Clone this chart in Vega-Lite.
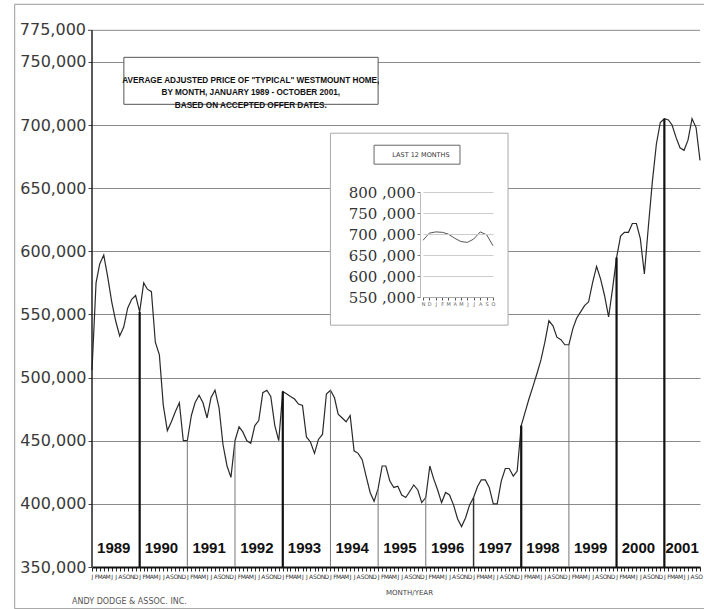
{
  "$schema": "https://vega.github.io/schema/vega-lite/v6.json",
  "width": 608,
  "height": 543,
  "autosize": {"type": "none"},
  "padding": {"left": 92, "top": 24, "right": 4, "bottom": 42},
  "background": "white",
  "config": {"view": {"stroke": null}, "font": "DejaVu Sans"},
  "datasets": {
    "prices": [
      {"date": "1989/01/01", "price": 506000}, {"date": "1989/02/01", "price": 575000}, {"date": "1989/03/01", "price": 590000}, {"date": "1989/04/01", "price": 597000}, {"date": "1989/05/01", "price": 580000}, {"date": "1989/06/01", "price": 560000}, {"date": "1989/07/01", "price": 545000}, {"date": "1989/08/01", "price": 533000}, {"date": "1989/09/01", "price": 540000}, {"date": "1989/10/01", "price": 555000}, {"date": "1989/11/01", "price": 562000}, {"date": "1989/12/01", "price": 565000},
      {"date": "1990/01/01", "price": 552000}, {"date": "1990/02/01", "price": 575000}, {"date": "1990/03/01", "price": 570000}, {"date": "1990/04/01", "price": 568000}, {"date": "1990/05/01", "price": 528000}, {"date": "1990/06/01", "price": 518000}, {"date": "1990/07/01", "price": 478000}, {"date": "1990/08/01", "price": 458000}, {"date": "1990/09/01", "price": 465000}, {"date": "1990/10/01", "price": 473000}, {"date": "1990/11/01", "price": 480000}, {"date": "1990/12/01", "price": 450000},
      {"date": "1991/01/01", "price": 450000}, {"date": "1991/02/01", "price": 470000}, {"date": "1991/03/01", "price": 480000}, {"date": "1991/04/01", "price": 486000}, {"date": "1991/05/01", "price": 480000}, {"date": "1991/06/01", "price": 468000}, {"date": "1991/07/01", "price": 484000}, {"date": "1991/08/01", "price": 490000}, {"date": "1991/09/01", "price": 476000}, {"date": "1991/10/01", "price": 447000}, {"date": "1991/11/01", "price": 430000}, {"date": "1991/12/01", "price": 421000},
      {"date": "1992/01/01", "price": 450000}, {"date": "1992/02/01", "price": 461000}, {"date": "1992/03/01", "price": 457000}, {"date": "1992/04/01", "price": 450000}, {"date": "1992/05/01", "price": 448000}, {"date": "1992/06/01", "price": 462000}, {"date": "1992/07/01", "price": 466000}, {"date": "1992/08/01", "price": 488000}, {"date": "1992/09/01", "price": 490000}, {"date": "1992/10/01", "price": 485000}, {"date": "1992/11/01", "price": 462000}, {"date": "1992/12/01", "price": 450000},
      {"date": "1993/01/01", "price": 489000}, {"date": "1993/02/01", "price": 487000}, {"date": "1993/03/01", "price": 485000}, {"date": "1993/04/01", "price": 483000}, {"date": "1993/05/01", "price": 479000}, {"date": "1993/06/01", "price": 478000}, {"date": "1993/07/01", "price": 453000}, {"date": "1993/08/01", "price": 449000}, {"date": "1993/09/01", "price": 440000}, {"date": "1993/10/01", "price": 451000}, {"date": "1993/11/01", "price": 455000}, {"date": "1993/12/01", "price": 487000},
      {"date": "1994/01/01", "price": 490000}, {"date": "1994/02/01", "price": 484000}, {"date": "1994/03/01", "price": 471000}, {"date": "1994/04/01", "price": 468000}, {"date": "1994/05/01", "price": 465000}, {"date": "1994/06/01", "price": 470000}, {"date": "1994/07/01", "price": 442000}, {"date": "1994/08/01", "price": 440000}, {"date": "1994/09/01", "price": 435000}, {"date": "1994/10/01", "price": 422000}, {"date": "1994/11/01", "price": 409000}, {"date": "1994/12/01", "price": 402000},
      {"date": "1995/01/01", "price": 412000}, {"date": "1995/02/01", "price": 430000}, {"date": "1995/03/01", "price": 430000}, {"date": "1995/04/01", "price": 418000}, {"date": "1995/05/01", "price": 413000}, {"date": "1995/06/01", "price": 414000}, {"date": "1995/07/01", "price": 407000}, {"date": "1995/08/01", "price": 405000}, {"date": "1995/09/01", "price": 410000}, {"date": "1995/10/01", "price": 415000}, {"date": "1995/11/01", "price": 411000}, {"date": "1995/12/01", "price": 401000},
      {"date": "1996/01/01", "price": 405000}, {"date": "1996/02/01", "price": 430000}, {"date": "1996/03/01", "price": 420000}, {"date": "1996/04/01", "price": 411000}, {"date": "1996/05/01", "price": 401000}, {"date": "1996/06/01", "price": 409000}, {"date": "1996/07/01", "price": 407000}, {"date": "1996/08/01", "price": 399000}, {"date": "1996/09/01", "price": 388000}, {"date": "1996/10/01", "price": 382000}, {"date": "1996/11/01", "price": 389000}, {"date": "1996/12/01", "price": 399000},
      {"date": "1997/01/01", "price": 405000}, {"date": "1997/02/01", "price": 414000}, {"date": "1997/03/01", "price": 419000}, {"date": "1997/04/01", "price": 419000}, {"date": "1997/05/01", "price": 413000}, {"date": "1997/06/01", "price": 400000}, {"date": "1997/07/01", "price": 400000}, {"date": "1997/08/01", "price": 418000}, {"date": "1997/09/01", "price": 428000}, {"date": "1997/10/01", "price": 428000}, {"date": "1997/11/01", "price": 422000}, {"date": "1997/12/01", "price": 426000},
      {"date": "1998/01/01", "price": 462000}, {"date": "1998/02/01", "price": 473000}, {"date": "1998/03/01", "price": 483000}, {"date": "1998/04/01", "price": 493000}, {"date": "1998/05/01", "price": 503000}, {"date": "1998/06/01", "price": 514000}, {"date": "1998/07/01", "price": 528000}, {"date": "1998/08/01", "price": 545000}, {"date": "1998/09/01", "price": 541000}, {"date": "1998/10/01", "price": 532000}, {"date": "1998/11/01", "price": 530000}, {"date": "1998/12/01", "price": 526000},
      {"date": "1999/01/01", "price": 526000}, {"date": "1999/02/01", "price": 539000}, {"date": "1999/03/01", "price": 547000}, {"date": "1999/04/01", "price": 552000}, {"date": "1999/05/01", "price": 557000}, {"date": "1999/06/01", "price": 560000}, {"date": "1999/07/01", "price": 575000}, {"date": "1999/08/01", "price": 588000}, {"date": "1999/09/01", "price": 578000}, {"date": "1999/10/01", "price": 565000}, {"date": "1999/11/01", "price": 548000}, {"date": "1999/12/01", "price": 570000},
      {"date": "2000/01/01", "price": 595000}, {"date": "2000/02/01", "price": 612000}, {"date": "2000/03/01", "price": 615000}, {"date": "2000/04/01", "price": 615000}, {"date": "2000/05/01", "price": 622000}, {"date": "2000/06/01", "price": 622000}, {"date": "2000/07/01", "price": 610000}, {"date": "2000/08/01", "price": 582000}, {"date": "2000/09/01", "price": 620000}, {"date": "2000/10/01", "price": 655000}, {"date": "2000/11/01", "price": 685000}, {"date": "2000/12/01", "price": 702000},
      {"date": "2001/01/01", "price": 705000}, {"date": "2001/02/01", "price": 704000}, {"date": "2001/03/01", "price": 700000}, {"date": "2001/04/01", "price": 690000}, {"date": "2001/05/01", "price": 682000}, {"date": "2001/06/01", "price": 680000}, {"date": "2001/07/01", "price": 688000}, {"date": "2001/08/01", "price": 705000}, {"date": "2001/09/01", "price": 698000}, {"date": "2001/10/01", "price": 672000}
    ]
  },
  "layer": [
    {
      "layer": [
        {
          "data": {"values": [{}]},
          "mark": {"type": "rule", "color": "#8a8a8a", "strokeWidth": 1},
          "encoding": {
            "x": {"datum": {"year": 1989, "month": 1, "date": 1}, "type": "temporal"},
            "x2": {"datum": {"year": 2001, "month": 10, "date": 1}},
            "y": {"datum": 775000}
          }
        },
        {
          "data": {"values": [{}]},
          "mark": {"type": "rule", "color": "#444", "strokeWidth": 1},
          "encoding": {
            "x": {"datum": {"year": 1988, "month": 12, "date": 1}, "type": "temporal"},
            "x2": {"datum": {"year": 1989, "month": 1, "date": 1}},
            "y": {"datum": 775000}
          }
        },
        {
          "data": {"values": [{}]},
          "mark": {"type": "text", "font": "DejaVu Sans", "fontSize": 16, "color": "#3a3a3a", "align": "right", "baseline": "middle", "dx": -6},
          "encoding": {
            "x": {"datum": {"year": 1989, "month": 1, "date": 1}, "type": "temporal"},
            "y": {"datum": 775000},
            "text": {"value": "775,000"}
          }
        },
        {
          "data": {"name": "prices"},
          "mark": {"type": "line", "color": "#2a2a2a", "strokeWidth": 1.2},
          "encoding": {
            "x": {
              "field": "date", "type": "temporal",
              "scale": {"domain": [{"year": 1989, "month": 1, "date": 1}, {"year": 2001, "month": 10, "date": 1}], "nice": false},
              "axis": {
                "orient": "bottom",
                "tickCount": {"interval": "month", "step": 1},
                "labelExpr": "substring(timeFormat(datum.value, '%b'), 0, 1)",
                "labelFontSize": 6, "labelColor": "#333", "labelOverlap": false, "labelFlush": false, "labelBound": false,
                "labelPadding": 2, "tickSize": 4, "tickColor": "#222",
                "domainColor": "#111", "domainWidth": 2, "grid": false,
                "title": "MONTH/YEAR", "titleFontSize": 7, "titleFontWeight": "normal", "titleColor": "#444",
                "titlePadding": 9, "titleX": 317
              }
            },
            "y": {
              "field": "price", "type": "quantitative",
              "scale": {"domain": [350000, 780000], "nice": false, "zero": false},
              "axis": {
                "values": [350000, 375000, 400000, 425000, 450000, 475000, 500000, 525000, 550000, 575000, 600000, 625000, 650000, 675000, 700000, 725000, 750000],
                "labelExpr": "format(datum.value, ',.0f')",
                "labelFont": "DejaVu Sans", "labelFontSize": 16, "labelColor": "#3a3a3a",
                "labelPadding": 2, "tickSize": 4, "tickColor": "#444",
                "labelOverlap": false, "labelBound": false, "labelFlush": false,
                "domain": false,
                "grid": true, "gridColor": "#8a8a8a", "gridWidth": 1, "title": null
              }
            }
          }
        },
        {
          "data": {"values": [{}]},
          "mark": {"type": "rule", "color": "#222", "strokeWidth": 1.5},
          "encoding": {
            "x": {"datum": {"year": 1989, "month": 1, "date": 1}, "type": "temporal"},
            "y": {"datum": 350000},
            "y2": {"datum": 775000}
          }
        },
        {
          "data": {"name": "prices"},
          "transform": [{"filter": "month(toDate(datum.date)) == 0 && year(toDate(datum.date)) >= 1990"}],
          "mark": {"type": "rule"},
          "encoding": {
            "x": {"field": "date", "type": "temporal"},
            "y": {"field": "price", "type": "quantitative"},
            "y2": {"datum": 350000},
            "strokeWidth": {
              "condition": [
                {"test": "indexof([1990, 1993, 1998, 2000, 2001], year(toDate(datum.date))) >= 0", "value": 2.2},
                {"test": "year(toDate(datum.date)) == 1997", "value": 1.5}
              ],
              "value": 1
            },
            "color": {
              "condition": [
                {"test": "indexof([1990, 1993, 1998, 2000, 2001], year(toDate(datum.date))) >= 0", "value": "#111111"},
                {"test": "year(toDate(datum.date)) == 1997", "value": "#333333"}
              ],
              "value": "#777777"
            }
          }
        },
        {
          "data": {"name": "prices"},
          "mark": {"type": "text", "font": "Liberation Sans", "fontWeight": "bold", "fontSize": 15, "color": "#111", "baseline": "middle", "align": "center"},
          "encoding": {
            "x": {"field": "date", "aggregate": "mean", "type": "temporal"},
            "y": {"datum": 365000},
            "text": {"field": "date", "timeUnit": "year", "type": "ordinal"}
          }
        },
        {
          "data": {"values": [{}]},
          "mark": {"type": "rect", "fill": "white", "stroke": "#555", "strokeWidth": 1},
          "encoding": {
            "x": {"datum": {"year": 1989, "month": 9, "date": 2}, "type": "temporal"},
            "x2": {"datum": {"year": 1995, "month": 1, "date": 1}},
            "y": {"datum": 753600},
            "y2": {"datum": 716400}
          }
        },
        {
          "data": {"values": [{}]},
          "mark": {"type": "text", "font": "Liberation Sans", "fontWeight": "bold", "fontSize": 8.2, "color": "#111", "lineHeight": 12.5, "align": "center", "baseline": "middle"},
          "encoding": {
            "x": {"datum": {"year": 1992, "month": 5, "date": 1}, "type": "temporal"},
            "y": {"datum": 735000},
            "text": {"value": ["AVERAGE ADJUSTED PRICE OF \"TYPICAL\" WESTMOUNT HOME,", "BY MONTH, JANUARY 1989 - OCTOBER 2001,", "BASED ON ACCEPTED OFFER DATES."]}
          }
        },
        {
          "data": {"values": [{}]},
          "mark": {"type": "rect", "fill": "white", "stroke": "#aaa", "strokeWidth": 1},
          "encoding": {
            "x": {"datum": {"year": 1994, "month": 1, "date": 1}, "type": "temporal"},
            "x2": {"datum": {"year": 1997, "month": 9, "date": 22}},
            "y": {"datum": 693500},
            "y2": {"datum": 541500}
          }
        },
        {
          "data": {"values": [{}]},
          "mark": {"type": "rect", "fill": "white", "stroke": "#666", "strokeWidth": 1},
          "encoding": {
            "x": {"datum": {"year": 1994, "month": 12, "date": 1}, "type": "temporal"},
            "x2": {"datum": {"year": 1996, "month": 9, "date": 19}},
            "y": {"datum": 684000},
            "y2": {"datum": 669000}
          }
        },
        {
          "data": {"values": [{}]},
          "mark": {"type": "text", "fontSize": 6.5, "color": "#333", "align": "center", "baseline": "middle"},
          "encoding": {
            "x": {"datum": {"year": 1995, "month": 11, "date": 25}, "type": "temporal"},
            "y": {"datum": 676500},
            "text": {"value": "LAST 12 MONTHS"}
          }
        },
        {
          "data": {"values": [{}]},
          "mark": {"type": "text", "fontSize": 8, "color": "#555", "align": "left", "baseline": "middle"},
          "encoding": {
            "x": {"datum": {"year": 1988, "month": 8, "date": 1}, "type": "temporal"},
            "y": {"datum": 322300},
            "text": {"value": "ANDY DODGE & ASSOC. INC."}
          }
        },
        {
          "data": {"values": [{}]},
          "mark": {"type": "rect", "fill": null, "stroke": "#999", "strokeWidth": 1},
          "encoding": {
            "x": {"datum": {"year": 1987, "month": 5, "date": 20}, "type": "temporal"},
            "x2": {"datum": {"year": 2002, "month": 6, "date": 1}},
            "y": {"datum": 795600},
            "y2": {"datum": 317000}
          }
        }
      ]
    },
    {
      "data": {"name": "prices"},
      "transform": [{"filter": "toDate(datum.date) >= toDate('2000/11/01')"}],
      "mark": {"type": "line", "color": "#555", "strokeWidth": 1},
      "encoding": {
        "x": {
          "field": "date", "type": "temporal",
          "scale": {"domain": [{"year": 2000, "month": 11, "date": 1}, {"year": 2001, "month": 10, "date": 1}], "range": [331, 401], "nice": false},
          "axis": {
            "orient": "bottom", "offset": -270,
            "tickCount": {"interval": "month", "step": 1},
            "labelExpr": "substring(timeFormat(datum.value, '%b'), 0, 1)",
            "labelFontSize": 5, "labelColor": "#666", "labelPadding": 1, "labelOverlap": false, "labelFlush": false,
            "tickSize": 3, "tickColor": "#555", "domainColor": "#aaa", "grid": false, "title": null, "zindex": 1
          }
        },
        "y": {
          "field": "price", "type": "quantitative",
          "scale": {"domain": [550000, 800000], "range": [273, 168], "nice": false, "zero": false},
          "axis": {
            "orient": "left", "offset": -328,
            "values": [550000, 600000, 650000, 700000, 750000, 800000],
            "labelExpr": "replace(format(datum.value, ',.0f'), ',', ' ,')",
            "labelFont": "DejaVu Serif", "labelFontSize": 15, "labelColor": "#333", "labelPadding": 2,
            "tickSize": 3, "tickColor": "#777", "domainColor": "#bbb",
            "grid": true, "gridColor": "#ccc", "title": null, "zindex": 1
          }
        }
      }
    }
  ],
  "resolve": {"scale": {"x": "independent", "y": "independent"}}
}
